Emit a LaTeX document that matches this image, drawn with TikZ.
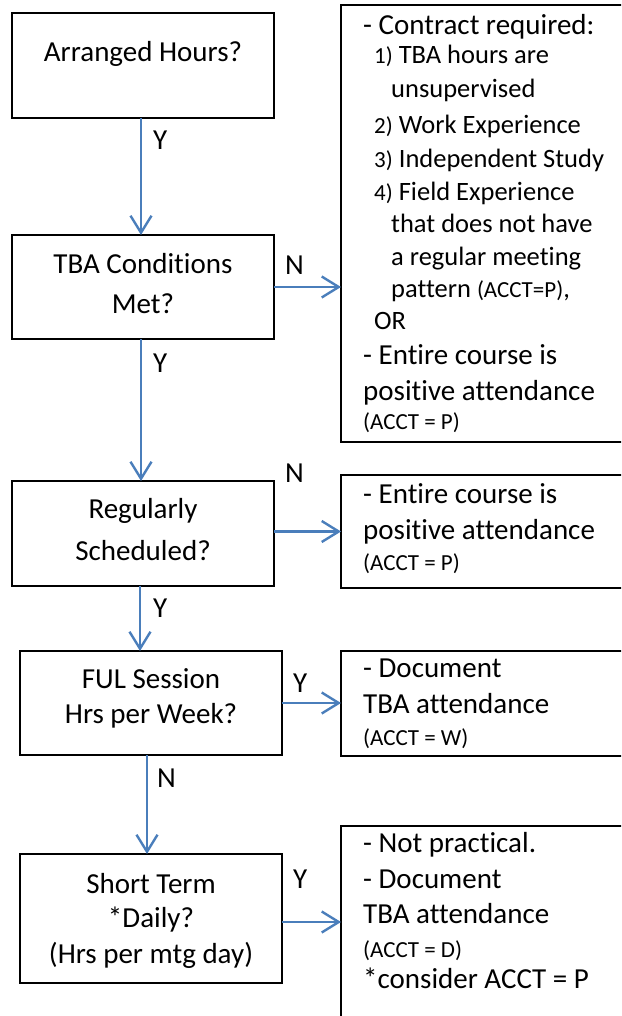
\documentclass[tikz,border=0pt]{standalone}
\usepackage{fontspec}
\setmainfont{Carlito}[Ligatures={NoCommon}]
\usetikzlibrary{arrows.meta,calc}
\definecolor{arrblue}{RGB}{74,126,187}
\tikzset{
  box/.style={draw=black, line width=2.4pt, rectangle, inner sep=0pt, outer sep=0pt},
  arr/.style={draw=arrblue, line width=2.4pt, -{Straight Barb[length=17pt,width=21pt]}},
  big/.style={font=\fontsize{29}{35}\selectfont, inner sep=0pt, anchor=base west},
  med/.style={font=\fontsize{26.5}{32}\selectfont, inner sep=0pt, anchor=base west},
  sml/.style={font=\fontsize{23}{28}\selectfont, inner sep=0pt, anchor=base west},
  ctext/.style={font=\fontsize{29}{35}\selectfont, inner sep=0pt, anchor=base},
  lbl/.style={font=\fontsize{29}{35}\selectfont, inner sep=0pt, anchor=base west},
}
\newcommand{\smallnum}[1]{{\fontsize{23}{28}\selectfont #1}}
\begin{document}
\begin{tikzpicture}[x=1pt,y=-1pt]
\useasboundingbox (0,0) rectangle (621,1016);
\clip (0,0) rectangle (621,1016);
% left boxes
\node[box, minimum width=262pt, minimum height=105pt] (b1) at (143,65.5) {};
\node[box, minimum width=262pt, minimum height=104pt] (b2) at (143,287) {};
\node[box, minimum width=262pt, minimum height=105pt] (b3) at (143,533.5) {};
\node[box, minimum width=262pt, minimum height=104pt] (b4) at (151,703) {};
\node[box, minimum width=262pt, minimum height=129pt] (b5) at (151,918.5) {};
% right boxes
\node[box, minimum width=291pt, minimum height=437pt] (r1) at (486.5,223.5) {};
\node[box, minimum width=291pt, minimum height=113pt] (r2) at (486.5,531.5) {};
\node[box, minimum width=291pt, minimum height=105pt] (r3) at (486.5,703.5) {};
\node[box, minimum width=291pt, minimum height=204pt] (r4) at (486.5,928) {};
% box texts
\node[ctext] (t1) at (143,62) {Arranged Hours?};
\node[ctext] (t2a) at (143,273) {TBA Conditions};
\node[ctext] (t2b) at (143,313) {Met?};
\node[ctext] (t3a) at (143,518) {Regularly};
\node[ctext] (t3b) at (143,560) {Scheduled?};
\node[ctext] (t4a) at (151,688) {FUL Session};
\node[ctext] (t4b) at (151,723) {Hrs per Week?};
\node[ctext] (t5a) at (151,893) {Short Term};
\node[ctext] (t5b) at (151,927) {*Daily?};
\node[ctext] (t5c) at (151,963) {(Hrs per mtg day)};
% right box 1 text
\node[big] (r1a) at (363,35) {- Contract required:};
\node[med] (r1b) at (374,64) {\smallnum{1)} TBA hours are};
\node[med] (r1c) at (391,98) {unsupervised};
\node[med] (r1d) at (374,134) {\smallnum{2)} Work Experience};
\node[med] (r1e) at (374,168) {\smallnum{3)} Independent Study};
\node[med] (r1f) at (374,201) {\smallnum{4)} Field Experience};
\node[med] (r1g) at (391,233) {that does not have};
\node[med] (r1h) at (391,265) {a regular meeting};
\node[med] (r1i) at (391,297) {pattern \smallnum{(ACCT=P)},};
\node[med] (r1j) at (374,329) {OR};
\node[big] (r1k) at (363,364) {- Entire course is};
\node[big] (r1l) at (363,400) {positive attendance};
\node[sml] (r1m) at (363,429) {(ACCT = P)};
% right box 2 text
\node[big] (r2a) at (363,503) {- Entire course is};
\node[big] (r2b) at (363,539) {positive attendance};
\node[sml] (r2c) at (363,570) {(ACCT = P)};
% right box 3 text
\node[big] (r3a) at (363,677) {- Document};
\node[big] (r3b) at (363,713) {TBA attendance};
\node[sml] (r3c) at (363,745) {(ACCT = W)};
% right box 4 text
\node[big] (r4a) at (363,852) {- Not practical.};
\node[big] (r4b) at (363,888) {- Document};
\node[big] (r4c) at (363,923) {TBA attendance};
\node[sml] (r4d) at (363,957) {(ACCT = D)};
\node[big] (r4e) at (363,988) {*consider ACCT = P};
% connectors
\draw[arr] ([xshift=-2pt]b1.south) -- ([xshift=-2pt]b2.north);
\draw[arr] ([xshift=-2pt]b2.south) -- ([xshift=-2pt]b3.north);
\draw[arr] ([xshift=-3pt]b3.south) -- ([xshift=-3pt]b3.south |- b4.north);
\draw[arr] ([xshift=-4pt]b4.south) -- ([xshift=-4pt]b5.north);
\draw[arr] (b2.east) -- (b2.east -| r1.west);
\draw[arr] ([yshift=2pt]b3.east) -- ([yshift=2pt]b3.east -| r2.west);
\draw[arr] (b4.east) -- (b4.east -| r3.west);
\draw[arr] ([yshift=-3.5pt]b5.east) -- ([yshift=-3.5pt]b5.east -| r4.west);
% labels
\node[lbl] (y1) at (153,150) {Y};
\node[lbl] (y2) at (153,372) {Y};
\node[lbl] (n2) at (285,274) {N};
\node[lbl] (n3) at (285,482) {N};
\node[lbl] (y3) at (153,617) {Y};
\node[lbl] (y4) at (293,692) {Y};
\node[lbl] (n4) at (157,787) {N};
\node[lbl] (y5) at (293,888) {Y};
\end{tikzpicture}
\end{document}
